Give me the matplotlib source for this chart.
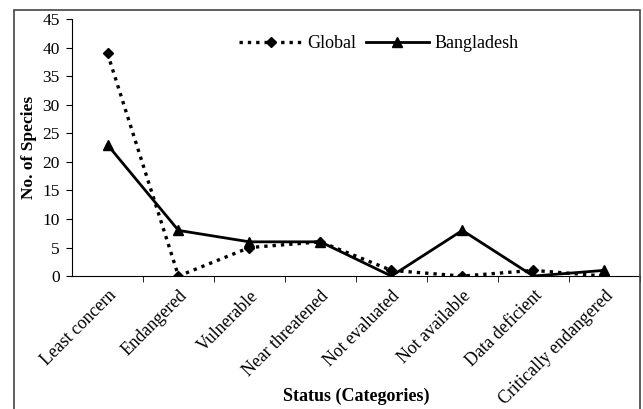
import numpy as np
import matplotlib
matplotlib.use("Agg")
import matplotlib.pyplot as plt
from matplotlib.patches import Rectangle

plt.rcParams['font.family'] = ['Liberation Serif', 'DejaVu Serif']

# Data
categories = ["Least concern", "Endangered", "Vulnerable", "Near threatened",
              "Not evaluated", "Not available", "Data deficient", "Critically endangered"]
global_vals = [39, 0, 5, 6, 1, 0, 1, 0]
bangladesh_vals = [23, 8, 6, 6, 0, 8, 0, 1]

fig = plt.figure(figsize=(6.43, 4.09), dpi=100)
ax = fig.add_axes([0.112, 0.325, 0.883, 0.628])

x = np.arange(len(categories))
ax.plot(x, global_vals, linestyle=(0, (1, 1.5)), color='black', linewidth=2.4,
        marker='D', markersize=5.5, label='Global')
ax.plot(x, bangladesh_vals, linestyle='-', color='black', linewidth=2.0,
        marker='^', markersize=6.5, label='Bangladesh')

ax.set_xlim(-0.5, len(categories) - 0.5)
ax.set_ylim(0, 45)
ax.set_yticks(np.arange(0, 46, 5))
ax.set_xticks(x)
ax.set_xticklabels(categories, rotation=45, ha='right', rotation_mode='anchor', fontsize=12.8)
ax.set_xticks(np.arange(-0.5, len(categories), 1)[1:], minor=True)
ax.tick_params(axis='x', which='major', length=0, pad=8)
ax.tick_params(axis='x', which='minor', length=4, direction='out')
ax.tick_params(axis='y', length=4, direction='out', labelsize=12.5, pad=5)

for s in ['top', 'right']:
    ax.spines[s].set_visible(False)
ax.spines['left'].set_linewidth(0.8)
ax.spines['bottom'].set_linewidth(0.8)

ax.set_ylabel("No. of Species", fontweight='bold', fontsize=12.5, labelpad=4)
ax.set_xlabel("Status (Categories)", fontweight='bold', fontsize=13)
ax.xaxis.set_label_coords(0.5, -0.435)

ax.legend(loc='upper center', bbox_to_anchor=(0.54, 1.0), ncol=2, frameon=False,
          handlelength=3.5, fontsize=13, columnspacing=0.5, handletextpad=0.3)

# outer border
fig.patches.append(Rectangle((14 / 643, -0.1), (640 - 14) / 643, 1.1 - 10 / 409,
                             transform=fig.transFigure, fill=False,
                             edgecolor='#444444', linewidth=1.2))

fig.savefig("out.png", dpi=100)
